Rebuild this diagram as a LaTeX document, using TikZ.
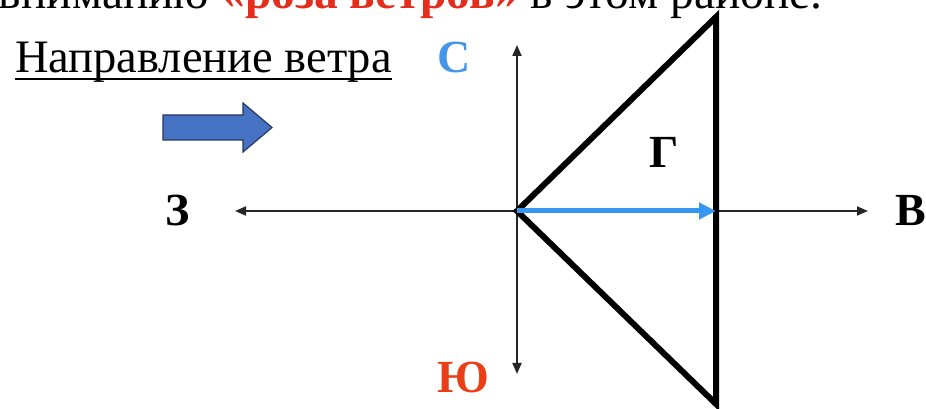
\documentclass[tikz,border=0pt]{standalone}
\usepackage{fontspec}
\setmainfont{Liberation Serif}
\usetikzlibrary{arrows.meta,positioning}
\definecolor{cWind}{RGB}{70,114,196}
\definecolor{cWindEdge}{RGB}{35,55,95}
\definecolor{cNorth}{RGB}{70,150,232}
\definecolor{cSouth}{RGB}{235,62,22}
\definecolor{cRose}{RGB}{228,45,28}
\definecolor{cVec}{RGB}{55,150,240}
\tikzset{
  axisarr/.style={<->,>={Triangle[length=11pt,width=9pt]},line width=1.8pt,
                  color=black!85},
  sidebold/.style={line width=6pt,color=black},
  vecarr/.style={->,>={Triangle[length=17pt,width=16pt]},line width=5pt,
                 color=cVec},
  dirlabel/.style={font=\fontsize{46}{46}\selectfont\bfseries,inner sep=0pt},
  headtext/.style={font=\fontsize{46.5}{54}\selectfont,inner sep=0pt,
                   anchor=base west},
  uline/.style={line width=1.6pt,color=black},
  windarr/.style={draw=cWindEdge,fill=cWind,line width=1.2pt,line join=miter}
}
\begin{document}
\begin{tikzpicture}[x=1pt,y=1pt]
  \useasboundingbox (0,0) rectangle (926,409);

  \coordinate (o) at (517,198);
  \coordinate (n) at (517,364);
  \coordinate (s) at (517,35);
  \coordinate (w) at (235,198);
  \coordinate (e) at (868,198);
  \coordinate (tt) at (716,392);
  \coordinate (tb) at (716,5);
  \coordinate (tm) at (716,198);

  \node[headtext,anchor=base east,font=\fontsize{47.5}{54}\selectfont] (top)
      at (823,400)
      {вниманию {\color{cRose}\bfseries «роза ветров»} в этом районе.};
  \node[headtext] (wdir) at (15,336) {Направление ветра};
  \draw[uline] ([yshift=-6pt]wdir.base west) -- ([yshift=-6pt]wdir.base east);

  \draw[windarr] (163,269) -- (243,269) -- (243,257) -- (272,281.5)
      -- (243,306) -- (243,294) -- (163,294) -- cycle;

  \draw[axisarr] (w) -- (e);
  \draw[axisarr] (s) -- (n);
  \draw[sidebold] (tt) -- (o) -- (tb) -- cycle;
  \draw[vecarr] (o) -- (tm);

  \node[dirlabel,left=45pt of w] (lw) {З};
  \node[dirlabel,right=27pt of e] (le) {В};
  \node[dirlabel,text=cNorth] (ln) at (454,351) {С};
  \node[dirlabel,text=cSouth] (ls) at (463,32) {Ю};
  \node[dirlabel] (lg) at (664,257) {Г};
\end{tikzpicture}
\end{document}
